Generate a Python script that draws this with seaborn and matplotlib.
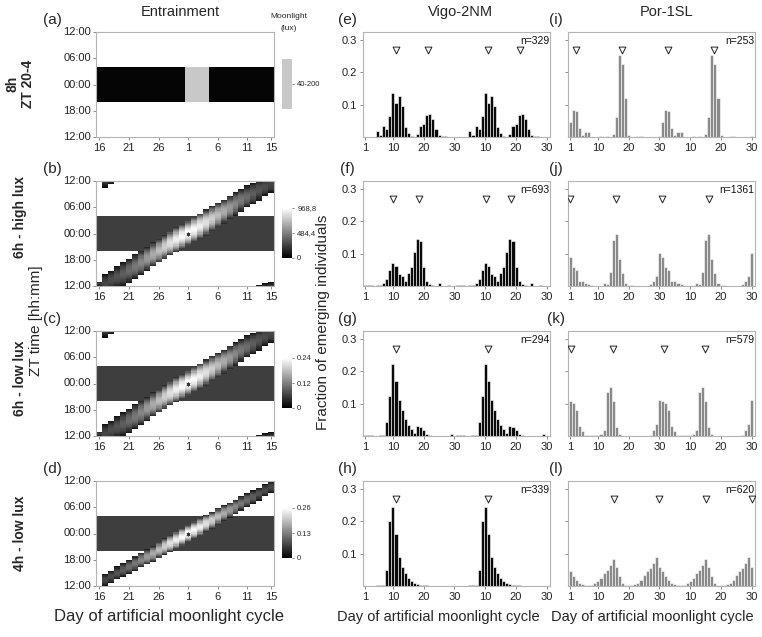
import numpy as np
import matplotlib
matplotlib.use("Agg")
import matplotlib.pyplot as plt
import seaborn as sns
from matplotlib.colors import ListedColormap

sns.set_theme(style="white")
plt.rcParams['font.family'] = ['Liberation Sans', 'DejaVu Sans']

# ---------------- data ----------------
cycle_days = [16, 17, 18, 19, 20, 21, 22, 23, 24, 25, 26, 27, 28, 29, 30,
              1, 2, 3, 4, 5, 6, 7, 8, 9, 10, 11, 12, 13, 14, 15]
heat_xticks = ['16', '21', '26', '1', '6', '11', '15']
heat_yticks = ['12:00', '06:00', '00:00', '18:00', '12:00']
night_start, night_end = 20.0, 28.0          # ZT 20 - 4
full_moon_days_8h = [1, 2, 3, 4]

# moonlight on/off (ZT hours, continuous; values >36 or <12 wrap around)
moon6_start = [12.0, 10.6, 11.2, 11.7, 12.1, 12.8, 13.6, 14.6, 15.6, 16.5, 17.4, 18.2, 19.0, 19.8, 20.5,
               21.2, 22.0, 22.8, 23.6, 24.5, 25.4, 26.3, 27.2, 28.1, 29.0, 29.9, 30.7, 31.6, 32.5, 33.3]
moon6_end = [13.1, 14.7, 15.6, 16.5, 17.4, 18.3, 19.2, 20.1, 21.0, 21.9, 22.8, 23.7, 24.6, 25.4, 26.2,
             27.0, 27.8, 28.6, 29.4, 30.2, 31.0, 31.8, 32.6, 33.4, 34.2, 34.9, 35.6, 36.2, 36.7, 37.0]
moon4_start = [0.0, 12.0, 12.7, 13.4, 14.1, 14.8, 15.5, 16.2, 16.9, 17.6, 18.4, 19.1, 19.8, 20.5, 21.2,
               22.0, 22.8, 23.5, 24.3, 25.1, 26.0, 26.8, 27.6, 28.4, 29.2, 30.0, 30.8, 31.6, 32.4, 33.2]
moon4_end = [0.0, 14.8, 15.6, 16.4, 17.2, 18.0, 18.8, 19.6, 20.4, 21.2, 22.1, 22.9, 23.7, 24.5, 25.2,
             26.0, 26.8, 27.5, 28.2, 28.9, 29.7, 30.4, 31.1, 31.8, 32.5, 33.2, 33.9, 34.6, 35.3, 36.0]
moon_peak = [0.25, 0.27, 0.30, 0.33, 0.37, 0.42, 0.47, 0.53, 0.60, 0.67, 0.74, 0.81, 0.88, 0.94, 0.98,
             1.00, 0.98, 0.94, 0.88, 0.81, 0.74, 0.67, 0.60, 0.53, 0.47, 0.42, 0.37, 0.33, 0.30, 0.27]
cbar_max = [968.8, 0.24, 0.26]
cbar_labels = [['0', '484,4', '968,8'], ['0', '0.12', '0.24'], ['0', '0.13', '0.26']]

hist_days = list(range(1, 31))
hist_xticks = ['1', '10', '20', '30', '10', '20', '30']
vigo_e = [0, 0, 0, 0, 0.02, 0.007, 0.034, 0.026, 0.065, 0.136, 0.105, 0.127, 0.096, 0.031, 0.011,
          0.002, 0, 0.01, 0.034, 0.039, 0.068, 0.072, 0.055, 0.025, 0.005, 0.002, 0.002, 0, 0, 0]
vigo_f = [0.002, 0.002, 0.002, 0, 0.004, 0.004, 0.008, 0.023, 0.048, 0.071, 0.061, 0.036, 0.031, 0.015, 0.04,
          0.059, 0.106, 0.145, 0.138, 0.059, 0.014, 0.006, 0.003, 0, 0.009, 0, 0, 0.002, 0, 0]
vigo_g = [0.002, 0.002, 0.002, 0, 0, 0.002, 0.004, 0.043, 0.124, 0.223, 0.169, 0.11, 0.08, 0.054, 0.034,
          0.022, 0.01, 0.032, 0.028, 0.019, 0.005, 0.004, 0, 0, 0, 0, 0, 0, 0.005, 0]
vigo_h = [0, 0, 0, 0, 0.002, 0.002, 0.004, 0.05, 0.2, 0.245, 0.16, 0.09, 0.06, 0.04, 0.025,
          0.015, 0.01, 0.005, 0.004, 0.002, 0.002, 0, 0, 0, 0, 0, 0, 0, 0, 0]
por_i = [0.047, 0.084, 0.081, 0.029, 0.007, 0.015, 0.015, 0, 0, 0, 0.002, 0, 0.002, 0, 0.01,
         0.063, 0.253, 0.226, 0.122, 0.005, 0, 0, 0.003, 0.003, 0, 0, 0, 0, 0, 0.004]
por_j = [0.09, 0.058, 0.049, 0.017, 0.016, 0.009, 0.005, 0.002, 0, 0, 0, 0.009, 0.006, 0.044, 0.143,
         0.161, 0.085, 0.04, 0.009, 0.002, 0.002, 0, 0, 0, 0, 0, 0.005, 0.017, 0.03, 0.101]
por_k = [0.107, 0.102, 0.081, 0.03, 0.017, 0.004, 0.003, 0.002, 0.003, 0.002, 0.005, 0.019, 0.135, 0.151, 0.107,
         0.027, 0.005, 0, 0, 0, 0, 0, 0, 0, 0, 0, 0.002, 0.019, 0.037, 0.11]
por_l = [0.045, 0.03, 0.02, 0.01, 0.005, 0.003, 0.002, 0.003, 0.008, 0.015, 0.025, 0.04, 0.05, 0.065, 0.085,
         0.06, 0.03, 0.01, 0.003, 0.002, 0.002, 0.005, 0.01, 0.02, 0.035, 0.045, 0.055, 0.07, 0.09, 0.06]
vigo_tri = [[10.85, 21.3], [10.15, 18.4], [11.0], [11.0]]
por_tri = [[2.9, 17.8], [0.8, 16.0], [1.3, 14.8], [15.2, 29.9]]
vigo_n = ['n=329', 'n=693', 'n=294', 'n=339']
por_n = ['n=253', 'n=1361', 'n=579', 'n=620']

row_names = ['8h\nZT 20-4', '6h - high lux', '6h - low lux', '4h - low lux']

# ---------------- layout ----------------
W, H = 762, 637
fig = plt.figure(figsize=(W / 100, H / 100), dpi=100)


def box(l, t, r, b):
    return [l / W, 1 - b / H, (r - l) / W, (b - t) / H]


row_tops = [32, 181, 331, 481]
row_label_y = [84, 217, 378, 533]
row_h = 105
N_ROWS = 96
t_rows = 36 - (np.arange(N_ROWS) + 0.5) * 24 / N_ROWS
night = (t_rows >= night_start) & (t_rows < night_end)
night_grid = np.repeat(night[:, None], len(cycle_days), axis=1).astype(float)

spine_col = '#b4b4b4'


def style_frame(ax):
    for sp in ax.spines.values():
        sp.set_visible(True)
        sp.set_color(spine_col)
        sp.set_linewidth(0.8)
    ax.tick_params(left=True, bottom=True, length=2.5, width=0.6, color='#777777',
                   labelsize=8, pad=1.5, labelcolor='#222222')


def moon_grid(starts, ends, peaks, vmax):
    g = np.zeros((N_ROWS, len(starts)))
    for j, (s, e, p) in enumerate(zip(starts, ends, peaks)):
        if e <= s:
            continue
        for shift in (-24, 0, 24):
            tt = t_rows + shift
            inside = (tt >= s) & (tt < e)
            rel = (tt[inside] - s) / (e - s)
            g[inside, j] = vmax * p * (0.2 + 0.8 * np.sin(np.pi * rel))
    return g


for r in range(4):
    top = row_tops[r]
    ax = fig.add_axes(box(96.5, top, 274, top + row_h))
    cax = fig.add_axes(box(281.7, top + 27, 292.3, top + 77))
    if r == 0:
        night_col = '#050505'
        mg = np.zeros_like(night_grid)
        for d in full_moon_days_8h:
            mg[:, cycle_days.index(d)] = night
        sns.heatmap(night_grid, mask=night_grid == 0, cmap=ListedColormap([night_col]),
                    cbar=False, ax=ax)
        sns.heatmap(mg, mask=mg == 0, cmap=ListedColormap(['#c8c8c8']), vmin=0, vmax=1,
                    cbar=True, cbar_ax=cax, ax=ax)
        cb = ax.collections[-1].colorbar
        cb.set_ticks([0.5])
        cb.set_ticklabels(['40-200'])
    else:
        if r == 3:
            mg = moon_grid(moon4_start, moon4_end, moon_peak, cbar_max[r - 1])
        else:
            mg = moon_grid(moon6_start, moon6_end, moon_peak, cbar_max[r - 1])
        sns.heatmap(night_grid, mask=night_grid == 0, cmap=ListedColormap(['#3e3e3e']),
                    cbar=False, ax=ax)
        sns.heatmap(mg, mask=mg == 0, cmap='gray', vmin=0, vmax=cbar_max[r - 1],
                    cbar=True, cbar_ax=cax, ax=ax)
        cb = ax.collections[-1].colorbar
        vm = cbar_max[r - 1]
        cb.set_ticks([0, vm / 2, vm])
        cb.set_ticklabels(cbar_labels[r - 1])
        # asterisk at full moon (day 1, 00:00)
        sns.scatterplot(x=[cycle_days.index(1) + 0.5], y=[N_ROWS / 2], marker=(6, 2, 0), s=6,
                        color='#333333', linewidth=0.5, ax=ax, legend=False, zorder=5)
    cb.outline.set_visible(False)
    cax.tick_params(length=1.5, width=0.5, labelsize=5.5, pad=2, right=True, color='#555555')
    ax.set_xticks(np.array([0, 5, 10, 15, 20, 25, 29]) + 0.5)
    ax.set_xticklabels(heat_xticks, rotation=0)
    ax.set_yticks([0, 24, 48, 72, 96])
    ax.set_yticklabels(heat_yticks, rotation=0)
    ax.set_xlim(0, len(cycle_days))
    ax.set_ylim(N_ROWS, 0)
    style_frame(ax)

    # histograms
    for c, (vals, tri, ntxt, colr) in enumerate([
            ([vigo_e, vigo_f, vigo_g, vigo_h][r], vigo_tri[r], vigo_n[r], '#0a0a0a'),
            ([por_i, por_j, por_k, por_l][r], por_tri[r], por_n[r], '#8a8a8a')]):
        left = 363 if c == 0 else 568
        hx = fig.add_axes(box(left, top, left + 187, top + row_h))
        xs = hist_days + [d + 30 for d in hist_days]
        ys = list(vals) + list(vals)
        sns.barplot(x=xs, y=ys, native_scale=True, color=colr, edgecolor='white',
                    linewidth=0.4, width=1.0, errorbar=None, ax=hx, saturation=1)
        tx = list(tri) + [t + 30 for t in tri]
        sns.scatterplot(x=tx, y=[0.27] * len(tx), marker='v', s=24, color='white',
                        edgecolor='#222222', linewidth=0.7, ax=hx, legend=False, zorder=4)
        hx.set_xlim(0.3, 61)
        hx.set_ylim(0, 0.325)
        hx.set_xticks([1, 10, 20, 30, 40, 50, 60])
        hx.set_xticklabels(hist_xticks)
        hx.set_yticks([0.1, 0.2, 0.3])
        if c == 0:
            hx.set_yticklabels(['0.1', '0.2', '0.3'])
        else:
            hx.set_yticklabels([])
        hx.set_xlabel('')
        hx.set_ylabel('')
        style_frame(hx)
        hx.text(0.995, 0.965, ntxt, transform=hx.transAxes, ha='right', va='top',
                fontsize=7.5, color='#111111')

# ---------------- texts ----------------
fig.text(180 / W, 1 - 12 / H, 'Entrainment', ha='center', va='center', fontsize=10.5)
fig.text(460 / W, 1 - 12 / H, 'Vigo-2NM', ha='center', va='center', fontsize=10.5)
fig.text(667 / W, 1 - 12 / H, 'Por-1SL', ha='center', va='center', fontsize=10.5)
fig.text(289 / W, 1 - 16 / H, 'Moonlight', ha='center', va='center', fontsize=6)
fig.text(289 / W, 1 - 29 / H, '(lux)', ha='center', va='center', fontsize=6)

letters = [('(a)', '(e)', '(i)'), ('(b)', '(f)', '(j)'), ('(c)', '(g)', '(k)'), ('(d)', '(h)', '(l)')]
for r in range(4):
    y = 1 - (row_tops[r] - 12) / H
    for x, lt in zip([52, 347, 556], letters[r]):
        fig.text(x / W, y, lt, ha='center', va='center', fontsize=11)
    fig.text(20 / W, 1 - row_label_y[r] / H, row_names[r], rotation=90, ha='center',
             va='center', fontsize=10, fontweight='bold', linespacing=1.1)

fig.text(36 / W, 1 - 321 / H, 'ZT time [hh:mm]', rotation=90, ha='center', va='center', fontsize=11)
fig.text(323 / W, 1 - 322 / H, 'Fraction of emerging individuals', rotation=90, ha='center',
         va='center', fontsize=11)
for x, fs in [(169, 12), (438, 10.5), (652, 10.5)]:
    fig.text(x / W, 1 - 617 / H, 'Day of artificial moonlight cycle', ha='center', va='center',
             fontsize=fs)

fig.savefig('out.png', dpi=100)
